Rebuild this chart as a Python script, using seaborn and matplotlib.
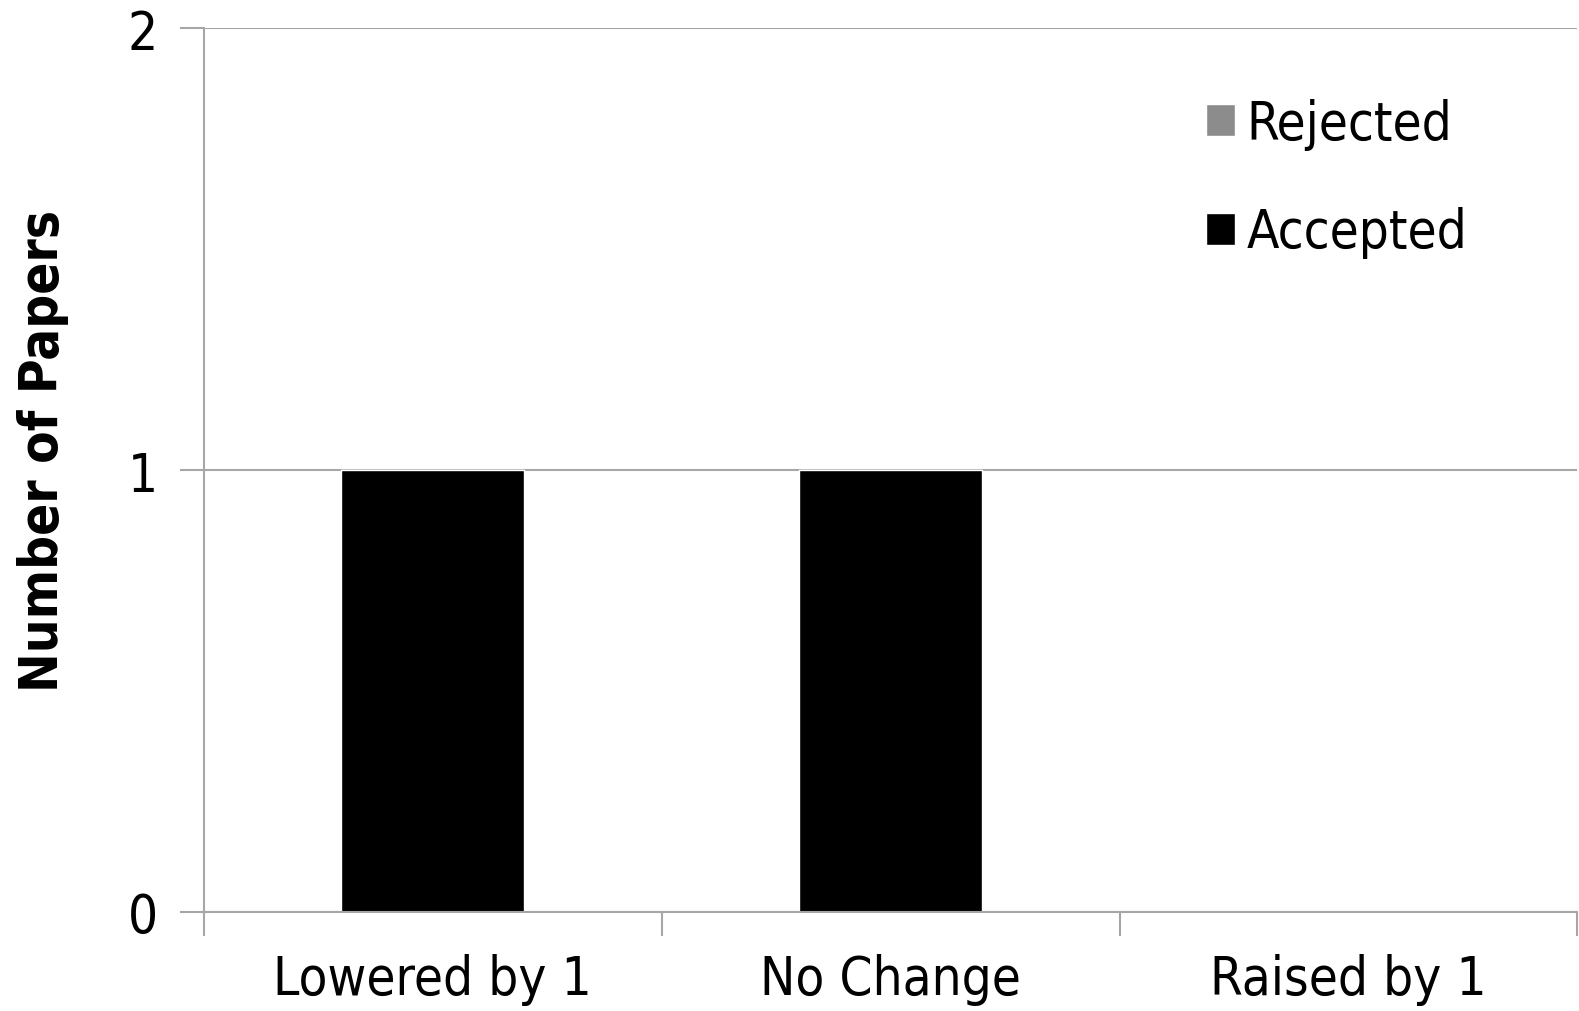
import pandas as pd
import numpy as np
import seaborn as sns
import matplotlib.pyplot as plt

sns.set_style("white")
plt.rcParams["font.family"] = ["DejaVu Sans"]
plt.rcParams["font.stretch"] = "condensed"
plt.rcParams["text.color"] = "black"
plt.rcParams["axes.labelcolor"] = "black"
plt.rcParams["xtick.color"] = "black"
plt.rcParams["ytick.color"] = "black"

# data
categories = ["Lowered by 1", "No Change", "Raised by 1"]
accepted = [1, 1, 0]
rejected = [0, 0, 0]

df = pd.DataFrame({"change": categories, "accepted": accepted, "rejected": rejected})
df["total"] = df["accepted"] + df["rejected"]

fig = plt.figure(figsize=(15.79, 10.12), dpi=100)
ax = fig.add_axes([0.129, 0.098, 0.870, 0.873])

grid_col = "#a6a6a6"

# stacked bars: total drawn first (rejected on top), accepted over it
sns.barplot(data=df, x="change", y="total", color="#8c8c8c", width=0.4,
            saturation=1, ax=ax, label="Rejected", zorder=3)
sns.barplot(data=df, x="change", y="accepted", color="black", width=0.4,
            saturation=1, ax=ax, label="Accepted", zorder=3)

ax.set_xlim(-0.5, 2.5)
ax.set_ylim(0, 2)
ax.set_yticks([0, 1, 2])
ax.set_xlabel("")
ax.set_ylabel("Number of Papers", fontsize=38, fontweight="bold")
ax.yaxis.set_label_coords(-0.098, 0.523)

ax.yaxis.grid(True, color=grid_col, linewidth=1.5, zorder=0)
ax.set_axisbelow(True)
for s in ["top", "right"]:
    ax.spines[s].set_visible(False)
for s in ["left", "bottom"]:
    ax.spines[s].set_color(grid_col)
    ax.spines[s].set_linewidth(1.5)
    ax.spines[s].set_zorder(4)

ax.tick_params(axis="y", direction="out", length=17, width=1.5, color=grid_col,
               labelcolor="black", labelsize=38, pad=16, left=True)
ax.tick_params(axis="x", which="major", length=0, labelsize=38, pad=30,
               labelcolor="black")
ax.set_xticks([-0.5, 0.5, 1.5, 2.5], minor=True)
ax.tick_params(axis="x", which="minor", direction="out", length=17, width=1.5,
               color=grid_col, bottom=True)

handles, labels = ax.get_legend_handles_labels()
leg = ax.legend(handles, labels, loc="upper left", bbox_to_anchor=(0.695, 0.975),
                frameon=False, fontsize=38, handlelength=0.55, handleheight=0.55,
                handletextpad=0.22, labelspacing=1.07)

fig.savefig("out.png", dpi=100)
